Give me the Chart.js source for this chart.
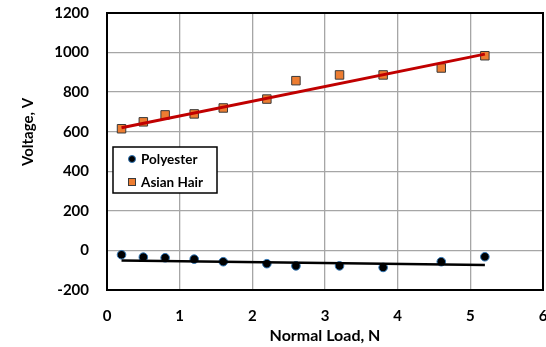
<!DOCTYPE html>
<html>
<head>
<meta charset="utf-8">
<script src="https://cdn.jsdelivr.net/npm/chart.js@4/dist/chart.umd.min.js"></script>
<style>
  html, body { margin: 0; padding: 0; background: #fff; }
  #wrap { width: 546px; height: 347px; position: relative; }
</style>
</head>
<body>
<div id="wrap"><canvas id="chart" width="546" height="347"></canvas></div>
<script>
const loadN = [0.2, 0.5, 0.8, 1.2, 1.6, 2.2, 2.6, 3.2, 3.8, 4.6, 5.2];
const polyesterV = [-22, -34, -37, -44, -57, -67, -78, -78, -86, -57, -32];
const asianHairV = [615, 650, 685, 690, 720, 765, 858, 887, 887, 922, 984];
const trendX = [0.2, 5.2];
const polyesterTrend = [-51, -74];
const asianHairTrend = [620, 992];
const xTicks = [0, 1, 2, 3, 4, 5, 6];
const yTicks = [-200, 0, 200, 400, 600, 800, 1000, 1200];

const FONT = "Lato, 'Open Sans', sans-serif";
const pts = (xs, ys) => xs.map((x, i) => ({ x, y: ys[i] }));

const framePlugin = {
  id: 'frame',
  afterDraw(chart) {
    const { ctx, chartArea: a } = chart;
    ctx.save();
    ctx.strokeStyle = '#000';
    ctx.lineWidth = 2;
    ctx.strokeRect(a.left, a.top, a.right - a.left, a.bottom - a.top);

    // axis titles
    ctx.fillStyle = '#000';
    ctx.font = 'bold 16px ' + FONT;
    ctx.textAlign = 'center';
    ctx.textBaseline = 'middle';
    ctx.fillText('Normal Load, N', (a.left + a.right) / 2, 336);
    ctx.font = 'bold 15px ' + FONT;
    ctx.translate(28, 132);
    ctx.rotate(-Math.PI / 2);
    ctx.fillText('Voltage, V', 0, 0);
    ctx.restore();

    // legend box
    ctx.save();
    ctx.fillStyle = '#fff';
    ctx.fillRect(113, 147, 104, 46);
    ctx.strokeStyle = '#000';
    ctx.lineWidth = 1.5;
    ctx.strokeRect(113, 147, 104, 46);
    ctx.font = 'bold 13.5px ' + FONT;
    ctx.textAlign = 'left';
    ctx.textBaseline = 'middle';
    const items = chart.data.datasets.filter(d => d.showInLegend);
    items.forEach((d, i) => {
      const y = 159 + i * 23;
      ctx.fillStyle = d.backgroundColor;
      ctx.strokeStyle = d.borderColor;
      ctx.lineWidth = 1;
      if (d.pointStyle === 'rect') {
        ctx.fillRect(128.5, y - 3.5, 7, 7);
        ctx.strokeRect(128.5, y - 3.5, 7, 7);
      } else {
        ctx.beginPath();
        ctx.arc(132, y, 3.5, 0, Math.PI * 2);
        ctx.fill();
        ctx.stroke();
      }
      ctx.fillStyle = '#000';
      ctx.fillText(d.label, 141, y + 1);
    });
    ctx.restore();
  }
};

new Chart(document.getElementById('chart'), {
  type: 'scatter',
  data: {
    datasets: [
      { label: 'Asian Hair trend', type: 'line', data: pts(trendX, asianHairTrend), borderColor: '#C00000', borderWidth: 3, pointRadius: 0, fill: false },
      { label: 'Polyester trend', type: 'line', data: pts(trendX, polyesterTrend), borderColor: '#000', borderWidth: 2.5, pointRadius: 0, fill: false },
      { label: 'Polyester', showInLegend: true, data: pts(loadN, polyesterV), backgroundColor: '#000', borderColor: '#2E75B6', borderWidth: 1, pointStyle: 'circle', pointRadius: 4.3 },
      { label: 'Asian Hair', showInLegend: true, data: pts(loadN, asianHairV), backgroundColor: '#ED7D31', borderColor: '#3A3A3A', borderWidth: 1, pointStyle: 'rect', pointRadius: 6 }
    ]
  },
  options: {
    responsive: false,
    animation: false,
    layout: { autoPadding: false, padding: { left: 0, right: 3, top: 13, bottom: 0 } },
    plugins: { legend: { display: false }, tooltip: { enabled: false } },
    scales: {
      x: {
        type: 'linear', min: 0, max: 6,
        afterBuildTicks: s => { s.ticks = xTicks.map(v => ({ value: v })); },
        afterFit: s => { s.height = 57; s.paddingLeft = 0; s.paddingRight = 0; },
        grid: { color: '#A6A6A6', lineWidth: 1.3, drawTicks: false },
        border: { display: false },
        ticks: { color: '#000', padding: 17, maxRotation: 0, callback: v => String(v), font: { family: FONT, size: 15, weight: 'bold' } }
      },
      y: {
        type: 'linear', min: -200, max: 1200,
        afterBuildTicks: s => { s.ticks = yTicks.map(v => ({ value: v })); },
        afterFit: s => { s.width = 107; s.paddingTop = 0; s.paddingBottom = 0; },
        grid: { color: '#A6A6A6', lineWidth: 1.3, drawTicks: false },
        border: { display: false },
        ticks: { color: '#000', padding: 18, callback: v => String(v), font: { family: FONT, size: 15, weight: 'bold' } }
      }
    }
  },
  plugins: [framePlugin]
});
</script>
</body>
</html>
